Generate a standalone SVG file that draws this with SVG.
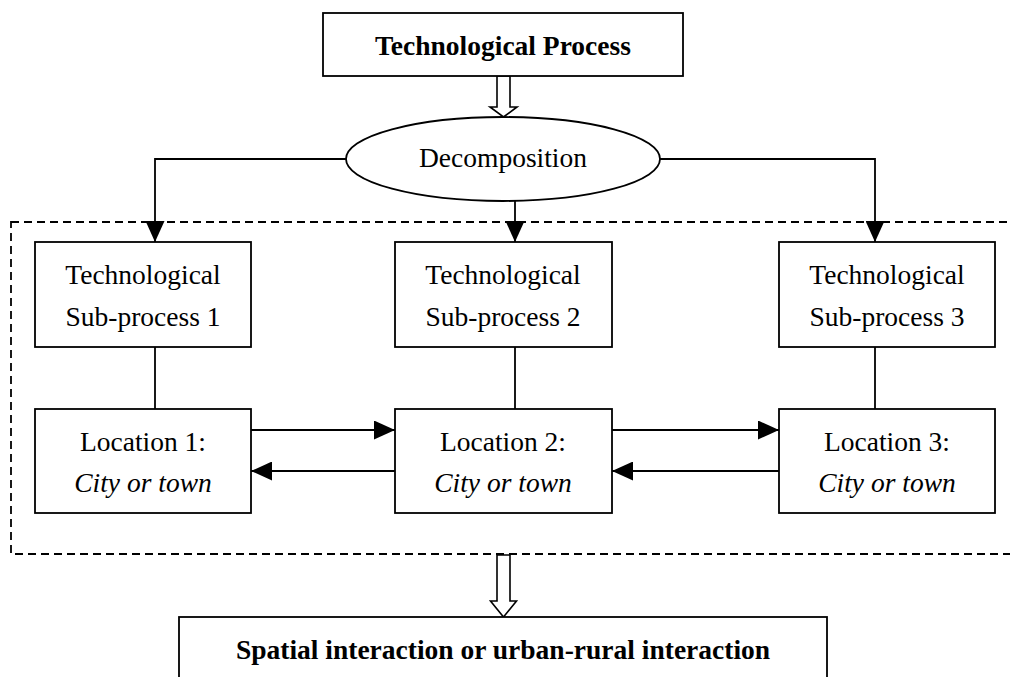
<svg xmlns="http://www.w3.org/2000/svg" width="1010" height="677" viewBox="0 0 1010 677">
<style>
.box{fill:#fff;stroke:#000;stroke-width:1.8}
.ln{fill:none;stroke:#000;stroke-width:1.8}
.hol{fill:#fff;stroke:#000;stroke-width:1.6;stroke-linejoin:miter}
.dash{fill:none;stroke:#000;stroke-width:1.8;stroke-dasharray:8 5}
text{font-family:"Liberation Serif","Times New Roman",serif;font-size:27.5px;fill:#000;text-anchor:middle}
.b{font-weight:bold}
.i{font-style:italic}
</style>
<defs>
<marker id="ah" viewBox="0 0 21 19" refX="21" refY="9.5" markerWidth="21" markerHeight="19" markerUnits="userSpaceOnUse" orient="auto">
<path d="M0,0 L21,9.5 L0,19 z" fill="#000"/>
</marker>
</defs>
<rect class="dash" x="11" y="222" width="1010" height="332"/>
<g id="connectors">
<polygon class="hol" points="497,76 510,76 510,107 517,107 503.5,117 490,107 497,107"/>
<path class="ln" d="M346,159 H155 V242" marker-end="url(#ah)"/>
<path class="ln" d="M515,201 V242" marker-end="url(#ah)"/>
<path class="ln" d="M660,159 H875 V242" marker-end="url(#ah)"/>
<line class="ln" x1="155" y1="347" x2="155" y2="409"/>
<line class="ln" x1="515" y1="347" x2="515" y2="409"/>
<line class="ln" x1="875" y1="347" x2="875" y2="409"/>
<line class="ln" x1="251" y1="430" x2="395" y2="430" marker-end="url(#ah)"/>
<line class="ln" x1="395" y1="471" x2="251" y2="471" marker-end="url(#ah)"/>
<line class="ln" x1="612" y1="430" x2="779" y2="430" marker-end="url(#ah)"/>
<line class="ln" x1="779" y1="471" x2="612" y2="471" marker-end="url(#ah)"/>
<polygon class="hol" points="497,555 510,555 510,601 516.5,601 503.5,617 490.5,601 497,601"/>
</g>
<g id="tech-process">
<rect class="box" x="323" y="13" width="360" height="63"/>
<text class="b" x="503" y="55">Technological Process</text>
</g>
<g id="decomposition">
<ellipse class="box" cx="503" cy="159" rx="157" ry="42"/>
<text x="503" y="167">Decomposition</text>
</g>
<g id="sub1">
<rect class="box" x="35" y="242" width="216" height="105"/>
<text x="143" y="284">Technological</text>
<text x="143" y="326">Sub-process 1</text>
</g>
<g id="sub2">
<rect class="box" x="395" y="242" width="217" height="105"/>
<text x="503" y="284">Technological</text>
<text x="503" y="326">Sub-process 2</text>
</g>
<g id="sub3">
<rect class="box" x="779" y="242" width="216" height="105"/>
<text x="887" y="284">Technological</text>
<text x="887" y="326">Sub-process 3</text>
</g>
<g id="loc1">
<rect class="box" x="35" y="409" width="216" height="104"/>
<text x="143" y="451">Location 1:</text>
<text class="i" x="143" y="492">City or town</text>
</g>
<g id="loc2">
<rect class="box" x="395" y="409" width="217" height="104"/>
<text x="503" y="451">Location 2:</text>
<text class="i" x="503" y="492">City or town</text>
</g>
<g id="loc3">
<rect class="box" x="779" y="409" width="216" height="104"/>
<text x="887" y="451">Location 3:</text>
<text class="i" x="887" y="492">City or town</text>
</g>
<g id="interaction">
<rect class="box" x="179" y="617" width="648" height="80"/>
<text class="b" x="503" y="659">Spatial interaction or urban-rural interaction</text>
</g>
</svg>
